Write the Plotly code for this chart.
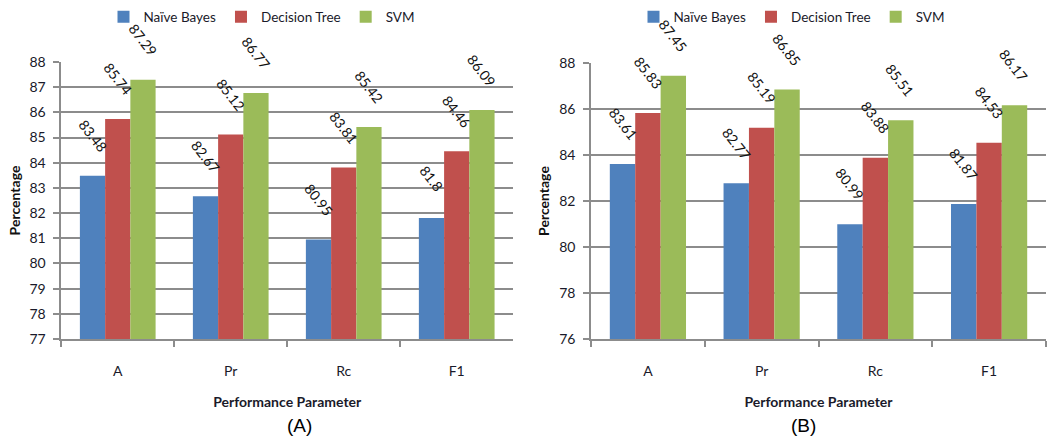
import plotly.graph_objects as go

# Performance parameters and classifier scores for the two experiments
params = ["A", "Pr", "Rc", "F1"]
nb_a = [83.48, 82.67, 80.95, 81.8]
dt_a = [85.74, 85.12, 83.81, 84.46]
svm_a = [87.29, 86.77, 85.42, 86.09]
nb_b = [83.61, 82.77, 80.99, 81.87]
dt_b = [85.83, 85.19, 83.88, 84.53]
svm_b = [87.45, 86.85, 85.51, 86.17]
series_names = ["Naïve Bayes", "Decision Tree", "SVM"]
colors = ["#4F81BD", "#C0504D", "#9BBB59"]

FONT = "Lato, Open Sans, sans-serif"
TXT = "#1a1a2a"

fig = go.Figure()
annotations = []

panels = [
    ("x", "y", "legend", [nb_a, dt_a, svm_a]),
    ("x2", "y2", "legend2", [nb_b, dt_b, svm_b]),
]
bar_px = 25  # horizontal offset between grouped bars, pixels
for xa, ya, lg, vals in panels:
    for k, (name, v, c) in enumerate(zip(series_names, vals, colors)):
        fig.add_trace(go.Bar(
            x=params, y=v, name=name, marker=dict(color=c, line=dict(width=0)),
            xaxis=xa, yaxis=ya, legend=lg,
        ))
        # rotated value labels above each bar
        for p, val in zip(params, v):
            annotations.append(dict(
                x=p, y=val, xref=xa, yref=ya, text=f"{val:g}", showarrow=False,
                textangle=52, xanchor="center", yanchor="middle",
                xshift=(k - 1) * bar_px, yshift=40,
                font=dict(family=FONT, size=14, color="#111111"),
            ))

axis_common = dict(
    showline=True, linecolor="#8c8c8c", linewidth=1.5, automargin=False,
    tickfont=dict(family=FONT, size=14, color=TXT),
)
xcommon = dict(axis_common, type="category", ticks="outside", tickson="boundaries",
               ticklen=6, tickcolor="#8c8c8c", tickwidth=1.5, ticklabelstandoff=18,
               showgrid=False)
ycommon = dict(axis_common, ticks="outside", ticklen=6, tickcolor="#8c8c8c", tickwidth=1.5,
               ticklabelstandoff=5,
               showgrid=True, gridcolor="#8c8c8c", gridwidth=1.5, zeroline=False)
xtitle = dict(text="<b>Performance Parameter</b>", font=dict(family=FONT, size=14, color=TXT), standoff=20)
ytitle = dict(text="<b>Percentage</b>", font=dict(family=FONT, size=14, color="#111111"), standoff=6)

legend_common = dict(orientation="h", y=0.962, yanchor="middle", xanchor="center",
                     font=dict(family=FONT, size=13.5, color=TXT), bgcolor="rgba(0,0,0,0)",
                     itemwidth=30, tracegroupgap=0)

fig.update_layout(
    width=1056, height=444, margin=dict(l=0, r=0, t=0, b=0, autoexpand=False),
    paper_bgcolor="white", plot_bgcolor="white",
    barmode="group", bargap=0.33, bargroupgap=0,
    xaxis=dict(xcommon, domain=[0.058, 0.486], anchor="y", title=xtitle),
    yaxis=dict(ycommon, domain=[0.2365, 0.8604], anchor="x", range=[77, 88], dtick=1, title=ytitle),
    xaxis2=dict(xcommon, domain=[0.5597, 0.9905], anchor="y2", title=xtitle),
    yaxis2=dict(ycommon, domain=[0.2365, 0.858], anchor="x2", range=[76, 88], dtick=2, title=ytitle),
    legend=dict(legend_common, x=262 / 1056),
    legend2=dict(legend_common, x=792 / 1056),
)

# panel captions
for label, xc in (("(A)", 0.27), ("(B)", 0.775)):
    annotations.append(dict(
        text=label, x=xc, y=1 - 425 / 444, xref="paper", yref="paper", showarrow=False,
        yanchor="middle", font=dict(family="Liberation Sans, Arial, sans-serif", size=19, color="black"),
    ))
fig.update_layout(annotations=annotations)

fig.write_html("out.html")
